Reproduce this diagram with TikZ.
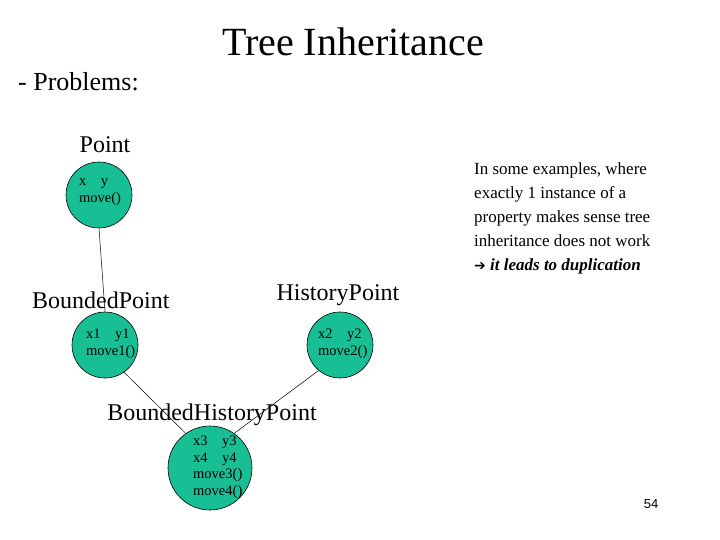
\documentclass[tikz,border=0pt]{standalone}
\usepackage{fontspec}
\setmainfont{Liberation Serif}
\newfontfamily\dejavu{DejaVu Sans}
\newfontfamily\arialf{Liberation Sans}
\definecolor{nodegreen}{RGB}{24,190,148}
\begin{document}
\begin{tikzpicture}[x=1pt,y=-1pt,
  cls/.style={circle,draw=black,fill=nodegreen,line width=0.6pt,inner sep=0pt},
  lbl/.style={inner sep=0pt,font=\fontsize{24}{28}\selectfont},
  small/.style={inner sep=0pt,anchor=north west,align=left,font=\fontsize{14.5}{16.5}\selectfont},
  link/.style={line width=0.5pt}]
\useasboundingbox (0,0) rectangle (720,540);
\node[inner sep=0pt,font=\fontsize{40}{44}\selectfont] (title) at (353,42) {Tree Inheritance};
\node[inner sep=0pt,anchor=west,font=\fontsize{26}{30}\selectfont] (prob) at (18,82) {- Problems:};
\node[lbl] (lp) at (105,145) {Point};
\node[lbl,anchor=west] (lb) at (32,300) {BoundedPoint};
\node[lbl] (lh) at (338,295) {HistoryPoint};
\node[lbl] (lbh) at (212,415) {BoundedHistoryPoint};
\node[cls,minimum size=66pt] (p) at (99,195) {};
\node[cls,minimum size=66pt] (b) at (105,345) {};
\node[cls,minimum size=66pt] (h) at (340,345) {};
\node[cls,minimum size=84pt] (bh) at (210,468) {};
\draw[link] (p.south) -- (b.north);
\draw[link] (b.-55) -- (bh.125);
\draw[link] (h.-130) -- (bh.55);
\node[small] (pt) at (79,179) {x\hspace{1em}y\\move()};
\node[small] (bt) at (86,329) {x1\hspace{1em}y1\\move1()};
\node[small] (ht) at (318,329) {x2\hspace{1em}y2\\move2()};
\node[small] (bht) at (193,436) {x3\hspace{1em}y3\\x4\hspace{1em}y4\\move3()\\move4()};
\node[inner sep=0pt,anchor=north west,align=left,font=\fontsize{17}{24}\selectfont] (note) at (474,163)
 {In some examples, where\\exactly 1 instance of a\\property makes sense tree\\inheritance does not work\\{\dejavu\fontsize{14}{24}\selectfont ➔} \textbf{\textit{it leads to duplication}}};
\node[inner sep=0pt,font=\arialf\fontsize{13}{15}\selectfont] (num) at (651,504) {54};
\end{tikzpicture}
\end{document}
